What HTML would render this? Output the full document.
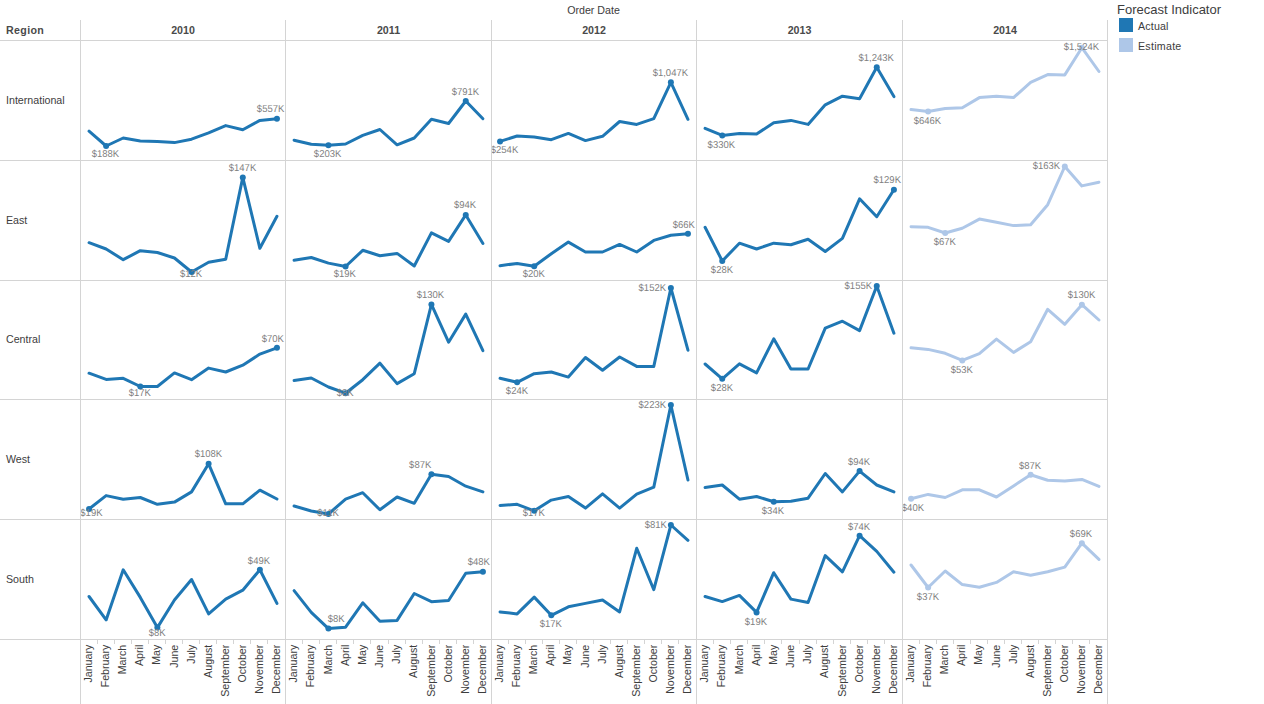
<!DOCTYPE html><html><head><meta charset="utf-8"><style>html,body{margin:0;padding:0;background:#fff;width:1264px;height:704px;overflow:hidden}svg{display:block}text{font-family:"Liberation Sans",sans-serif}</style></head><body>
<svg width="1264" height="704" viewBox="0 0 1264 704">
<rect width="1264" height="704" fill="#fff"/>
<path d="M0 40.5H1108 M0 160.5H1108 M0 280.5H1108 M0 399.5H1108 M0 519.5H1108 M0 639.5H1108 M80.5 20V704 M285.5 20V704 M491.5 20V704 M696.5 20V704 M902.5 20V704 M1107.5 20V704" stroke="#d4d4d4" stroke-width="1" fill="none" shape-rendering="crispEdges"/>
<path d="M97.5 640V644 M114.5 640V644 M131.5 640V644 M148.5 640V644 M165.5 640V644 M182.5 640V644 M199.5 640V644 M216.5 640V644 M233.5 640V644 M250.5 640V644 M267.5 640V644 M302.5 640V644 M319.5 640V644 M336.5 640V644 M353.5 640V644 M370.5 640V644 M388.5 640V644 M405.5 640V644 M422.5 640V644 M439.5 640V644 M456.5 640V644 M473.5 640V644 M508.5 640V644 M525.5 640V644 M542.5 640V644 M559.5 640V644 M576.5 640V644 M593.5 640V644 M610.5 640V644 M627.5 640V644 M644.5 640V644 M661.5 640V644 M678.5 640V644 M713.5 640V644 M730.5 640V644 M747.5 640V644 M764.5 640V644 M781.5 640V644 M799.5 640V644 M816.5 640V644 M833.5 640V644 M850.5 640V644 M867.5 640V644 M884.5 640V644 M919.5 640V644 M936.5 640V644 M953.5 640V644 M970.5 640V644 M987.5 640V644 M1004.5 640V644 M1021.5 640V644 M1038.5 640V644 M1055.5 640V644 M1072.5 640V644 M1089.5 640V644" stroke="#d4d4d4" stroke-width="1" fill="none" shape-rendering="crispEdges"/>
<text x="593.5" y="13.8" font-size="10.67" fill="#3d3d3d" text-anchor="middle">Order Date</text>
<text x="6" y="34" font-size="10.67" font-weight="bold" fill="#4a4a4a" letter-spacing="0.35">Region</text>
<text x="183.00" y="33.8" font-size="10.67" font-weight="bold" fill="#4a4a4a" text-anchor="middle">2010</text>
<text x="388.50" y="33.8" font-size="10.67" font-weight="bold" fill="#4a4a4a" text-anchor="middle">2011</text>
<text x="594.00" y="33.8" font-size="10.67" font-weight="bold" fill="#4a4a4a" text-anchor="middle">2012</text>
<text x="799.50" y="33.8" font-size="10.67" font-weight="bold" fill="#4a4a4a" text-anchor="middle">2013</text>
<text x="1005.00" y="33.8" font-size="10.67" font-weight="bold" fill="#4a4a4a" text-anchor="middle">2014</text>
<text x="6" y="103.80" font-size="10.67" fill="#3d3d3d">International</text>
<text x="6" y="223.80" font-size="10.67" fill="#3d3d3d">East</text>
<text x="6" y="342.80" font-size="10.67" fill="#3d3d3d">Central</text>
<text x="6" y="462.80" font-size="10.67" fill="#3d3d3d">West</text>
<text x="6" y="582.80" font-size="10.67" fill="#3d3d3d">South</text>
<text transform="translate(92.14,644.7) rotate(-90)" font-size="10.67" fill="#3d3d3d" text-anchor="end">January</text>
<text transform="translate(109.22,644.7) rotate(-90)" font-size="10.67" fill="#3d3d3d" text-anchor="end">February</text>
<text transform="translate(126.31,644.7) rotate(-90)" font-size="10.67" fill="#3d3d3d" text-anchor="end">March</text>
<text transform="translate(143.39,644.7) rotate(-90)" font-size="10.67" fill="#3d3d3d" text-anchor="end">April</text>
<text transform="translate(160.47,644.7) rotate(-90)" font-size="10.67" fill="#3d3d3d" text-anchor="end">May</text>
<text transform="translate(177.56,644.7) rotate(-90)" font-size="10.67" fill="#3d3d3d" text-anchor="end">June</text>
<text transform="translate(194.64,644.7) rotate(-90)" font-size="10.67" fill="#3d3d3d" text-anchor="end">July</text>
<text transform="translate(211.72,644.7) rotate(-90)" font-size="10.67" fill="#3d3d3d" text-anchor="end">August</text>
<text transform="translate(228.81,644.7) rotate(-90)" font-size="10.67" fill="#3d3d3d" text-anchor="end">September</text>
<text transform="translate(245.89,644.7) rotate(-90)" font-size="10.67" fill="#3d3d3d" text-anchor="end">October</text>
<text transform="translate(262.98,644.7) rotate(-90)" font-size="10.67" fill="#3d3d3d" text-anchor="end">November</text>
<text transform="translate(280.06,644.7) rotate(-90)" font-size="10.67" fill="#3d3d3d" text-anchor="end">December</text>
<text transform="translate(297.18,644.7) rotate(-90)" font-size="10.67" fill="#3d3d3d" text-anchor="end">January</text>
<text transform="translate(314.35,644.7) rotate(-90)" font-size="10.67" fill="#3d3d3d" text-anchor="end">February</text>
<text transform="translate(331.52,644.7) rotate(-90)" font-size="10.67" fill="#3d3d3d" text-anchor="end">March</text>
<text transform="translate(348.68,644.7) rotate(-90)" font-size="10.67" fill="#3d3d3d" text-anchor="end">April</text>
<text transform="translate(365.85,644.7) rotate(-90)" font-size="10.67" fill="#3d3d3d" text-anchor="end">May</text>
<text transform="translate(383.02,644.7) rotate(-90)" font-size="10.67" fill="#3d3d3d" text-anchor="end">June</text>
<text transform="translate(400.18,644.7) rotate(-90)" font-size="10.67" fill="#3d3d3d" text-anchor="end">July</text>
<text transform="translate(417.35,644.7) rotate(-90)" font-size="10.67" fill="#3d3d3d" text-anchor="end">August</text>
<text transform="translate(434.52,644.7) rotate(-90)" font-size="10.67" fill="#3d3d3d" text-anchor="end">September</text>
<text transform="translate(451.68,644.7) rotate(-90)" font-size="10.67" fill="#3d3d3d" text-anchor="end">October</text>
<text transform="translate(468.85,644.7) rotate(-90)" font-size="10.67" fill="#3d3d3d" text-anchor="end">November</text>
<text transform="translate(486.02,644.7) rotate(-90)" font-size="10.67" fill="#3d3d3d" text-anchor="end">December</text>
<text transform="translate(503.14,644.7) rotate(-90)" font-size="10.67" fill="#3d3d3d" text-anchor="end">January</text>
<text transform="translate(520.23,644.7) rotate(-90)" font-size="10.67" fill="#3d3d3d" text-anchor="end">February</text>
<text transform="translate(537.31,644.7) rotate(-90)" font-size="10.67" fill="#3d3d3d" text-anchor="end">March</text>
<text transform="translate(554.39,644.7) rotate(-90)" font-size="10.67" fill="#3d3d3d" text-anchor="end">April</text>
<text transform="translate(571.48,644.7) rotate(-90)" font-size="10.67" fill="#3d3d3d" text-anchor="end">May</text>
<text transform="translate(588.56,644.7) rotate(-90)" font-size="10.67" fill="#3d3d3d" text-anchor="end">June</text>
<text transform="translate(605.64,644.7) rotate(-90)" font-size="10.67" fill="#3d3d3d" text-anchor="end">July</text>
<text transform="translate(622.73,644.7) rotate(-90)" font-size="10.67" fill="#3d3d3d" text-anchor="end">August</text>
<text transform="translate(639.81,644.7) rotate(-90)" font-size="10.67" fill="#3d3d3d" text-anchor="end">September</text>
<text transform="translate(656.89,644.7) rotate(-90)" font-size="10.67" fill="#3d3d3d" text-anchor="end">October</text>
<text transform="translate(673.98,644.7) rotate(-90)" font-size="10.67" fill="#3d3d3d" text-anchor="end">November</text>
<text transform="translate(691.06,644.7) rotate(-90)" font-size="10.67" fill="#3d3d3d" text-anchor="end">December</text>
<text transform="translate(708.18,644.7) rotate(-90)" font-size="10.67" fill="#3d3d3d" text-anchor="end">January</text>
<text transform="translate(725.35,644.7) rotate(-90)" font-size="10.67" fill="#3d3d3d" text-anchor="end">February</text>
<text transform="translate(742.52,644.7) rotate(-90)" font-size="10.67" fill="#3d3d3d" text-anchor="end">March</text>
<text transform="translate(759.68,644.7) rotate(-90)" font-size="10.67" fill="#3d3d3d" text-anchor="end">April</text>
<text transform="translate(776.85,644.7) rotate(-90)" font-size="10.67" fill="#3d3d3d" text-anchor="end">May</text>
<text transform="translate(794.02,644.7) rotate(-90)" font-size="10.67" fill="#3d3d3d" text-anchor="end">June</text>
<text transform="translate(811.18,644.7) rotate(-90)" font-size="10.67" fill="#3d3d3d" text-anchor="end">July</text>
<text transform="translate(828.35,644.7) rotate(-90)" font-size="10.67" fill="#3d3d3d" text-anchor="end">August</text>
<text transform="translate(845.52,644.7) rotate(-90)" font-size="10.67" fill="#3d3d3d" text-anchor="end">September</text>
<text transform="translate(862.68,644.7) rotate(-90)" font-size="10.67" fill="#3d3d3d" text-anchor="end">October</text>
<text transform="translate(879.85,644.7) rotate(-90)" font-size="10.67" fill="#3d3d3d" text-anchor="end">November</text>
<text transform="translate(897.02,644.7) rotate(-90)" font-size="10.67" fill="#3d3d3d" text-anchor="end">December</text>
<text transform="translate(914.14,644.7) rotate(-90)" font-size="10.67" fill="#3d3d3d" text-anchor="end">January</text>
<text transform="translate(931.23,644.7) rotate(-90)" font-size="10.67" fill="#3d3d3d" text-anchor="end">February</text>
<text transform="translate(948.31,644.7) rotate(-90)" font-size="10.67" fill="#3d3d3d" text-anchor="end">March</text>
<text transform="translate(965.39,644.7) rotate(-90)" font-size="10.67" fill="#3d3d3d" text-anchor="end">April</text>
<text transform="translate(982.48,644.7) rotate(-90)" font-size="10.67" fill="#3d3d3d" text-anchor="end">May</text>
<text transform="translate(999.56,644.7) rotate(-90)" font-size="10.67" fill="#3d3d3d" text-anchor="end">June</text>
<text transform="translate(1016.64,644.7) rotate(-90)" font-size="10.67" fill="#3d3d3d" text-anchor="end">July</text>
<text transform="translate(1033.72,644.7) rotate(-90)" font-size="10.67" fill="#3d3d3d" text-anchor="end">August</text>
<text transform="translate(1050.81,644.7) rotate(-90)" font-size="10.67" fill="#3d3d3d" text-anchor="end">September</text>
<text transform="translate(1067.89,644.7) rotate(-90)" font-size="10.67" fill="#3d3d3d" text-anchor="end">October</text>
<text transform="translate(1084.97,644.7) rotate(-90)" font-size="10.67" fill="#3d3d3d" text-anchor="end">November</text>
<text transform="translate(1102.06,644.7) rotate(-90)" font-size="10.67" fill="#3d3d3d" text-anchor="end">December</text>
<defs>
<clipPath id="p00"><rect x="81" y="41" width="204" height="119"/></clipPath>
<clipPath id="p01"><rect x="286" y="41" width="205" height="119"/></clipPath>
<clipPath id="p02"><rect x="492" y="41" width="204" height="119"/></clipPath>
<clipPath id="p03"><rect x="697" y="41" width="205" height="119"/></clipPath>
<clipPath id="p04"><rect x="903" y="41" width="204" height="119"/></clipPath>
<clipPath id="p10"><rect x="81" y="161" width="204" height="119"/></clipPath>
<clipPath id="p11"><rect x="286" y="161" width="205" height="119"/></clipPath>
<clipPath id="p12"><rect x="492" y="161" width="204" height="119"/></clipPath>
<clipPath id="p13"><rect x="697" y="161" width="205" height="119"/></clipPath>
<clipPath id="p14"><rect x="903" y="161" width="204" height="119"/></clipPath>
<clipPath id="p20"><rect x="81" y="281" width="204" height="118"/></clipPath>
<clipPath id="p21"><rect x="286" y="281" width="205" height="118"/></clipPath>
<clipPath id="p22"><rect x="492" y="281" width="204" height="118"/></clipPath>
<clipPath id="p23"><rect x="697" y="281" width="205" height="118"/></clipPath>
<clipPath id="p24"><rect x="903" y="281" width="204" height="118"/></clipPath>
<clipPath id="p30"><rect x="81" y="400" width="204" height="119"/></clipPath>
<clipPath id="p31"><rect x="286" y="400" width="205" height="119"/></clipPath>
<clipPath id="p32"><rect x="492" y="400" width="204" height="119"/></clipPath>
<clipPath id="p33"><rect x="697" y="400" width="205" height="119"/></clipPath>
<clipPath id="p34"><rect x="903" y="400" width="204" height="119"/></clipPath>
<clipPath id="p40"><rect x="81" y="520" width="204" height="119"/></clipPath>
<clipPath id="p41"><rect x="286" y="520" width="205" height="119"/></clipPath>
<clipPath id="p42"><rect x="492" y="520" width="204" height="119"/></clipPath>
<clipPath id="p43"><rect x="697" y="520" width="205" height="119"/></clipPath>
<clipPath id="p44"><rect x="903" y="520" width="204" height="119"/></clipPath>
</defs>
<g clip-path="url(#p00)">
<polyline points="89.04,131.20 106.12,146.00 123.21,138.00 140.29,140.90 157.38,141.40 174.46,142.60 191.54,139.20 208.62,132.90 225.71,125.60 242.79,129.80 259.88,120.40 276.96,118.70" fill="none" stroke="#1f77b4" stroke-width="3.0" stroke-linejoin="round" stroke-linecap="round"/>
<circle cx="106.12" cy="146.00" r="3.0" fill="#1f77b4"/>
<circle cx="276.96" cy="118.70" r="3.0" fill="#1f77b4"/>
<text transform="translate(105.40,157) scale(0.95,1)" font-size="10" fill="#7f7f7f" text-anchor="middle" text-rendering="geometricPrecision">$188K</text>
<text transform="translate(270.60,112) scale(0.95,1)" font-size="10" fill="#7f7f7f" text-anchor="middle" text-rendering="geometricPrecision">$557K</text>
</g>
<g clip-path="url(#p01)">
<polyline points="294.08,140.20 311.25,144.30 328.42,145.20 345.58,144.00 362.75,135.40 379.92,129.50 397.08,144.80 414.25,138.00 431.42,119.30 448.58,123.50 465.75,101.00 482.92,118.70" fill="none" stroke="#1f77b4" stroke-width="3.0" stroke-linejoin="round" stroke-linecap="round"/>
<circle cx="328.42" cy="145.20" r="3.0" fill="#1f77b4"/>
<circle cx="465.75" cy="101.00" r="3.0" fill="#1f77b4"/>
<text transform="translate(327.60,157) scale(0.95,1)" font-size="10" fill="#7f7f7f" text-anchor="middle" text-rendering="geometricPrecision">$203K</text>
<text transform="translate(465.45,95) scale(0.95,1)" font-size="10" fill="#7f7f7f" text-anchor="middle" text-rendering="geometricPrecision">$791K</text>
</g>
<g clip-path="url(#p02)">
<polyline points="500.04,141.40 517.12,136.00 534.21,137.10 551.29,139.70 568.38,133.40 585.46,140.60 602.54,136.30 619.62,121.50 636.71,124.40 653.79,118.70 670.88,82.30 687.96,119.30" fill="none" stroke="#1f77b4" stroke-width="3.0" stroke-linejoin="round" stroke-linecap="round"/>
<circle cx="500.04" cy="141.40" r="3.0" fill="#1f77b4"/>
<circle cx="670.88" cy="82.30" r="3.0" fill="#1f77b4"/>
<text transform="translate(504.50,153) scale(0.95,1)" font-size="10" fill="#7f7f7f" text-anchor="middle" text-rendering="geometricPrecision">$254K</text>
<text transform="translate(670.35,76) scale(0.95,1)" font-size="10" fill="#7f7f7f" text-anchor="middle" text-rendering="geometricPrecision">$1,047K</text>
</g>
<g clip-path="url(#p03)">
<polyline points="705.08,128.30 722.25,135.40 739.42,133.40 756.58,134.10 773.75,122.70 790.92,120.40 808.08,124.40 825.25,104.80 842.42,96.20 859.58,98.80 876.75,67.30 893.92,96.60" fill="none" stroke="#1f77b4" stroke-width="3.0" stroke-linejoin="round" stroke-linecap="round"/>
<circle cx="722.25" cy="135.40" r="3.0" fill="#1f77b4"/>
<circle cx="876.75" cy="67.30" r="3.0" fill="#1f77b4"/>
<text transform="translate(721.35,148) scale(0.95,1)" font-size="10" fill="#7f7f7f" text-anchor="middle" text-rendering="geometricPrecision">$330K</text>
<text transform="translate(876.15,61) scale(0.95,1)" font-size="10" fill="#7f7f7f" text-anchor="middle" text-rendering="geometricPrecision">$1,243K</text>
</g>
<g clip-path="url(#p04)">
<polyline points="911.04,109.50 928.12,111.60 945.21,108.50 962.29,107.80 979.38,97.60 996.46,96.20 1013.54,97.60 1030.62,82.30 1047.71,74.60 1064.79,74.90 1081.88,47.70 1098.96,71.50" fill="none" stroke="#aec7e8" stroke-width="3.0" stroke-linejoin="round" stroke-linecap="round"/>
<circle cx="928.12" cy="111.60" r="3.0" fill="#aec7e8"/>
<circle cx="1081.88" cy="47.70" r="3.0" fill="#aec7e8"/>
<text transform="translate(927.40,124) scale(0.95,1)" font-size="10" fill="#7f7f7f" text-anchor="middle" text-rendering="geometricPrecision">$646K</text>
<text transform="translate(1081.35,50) scale(0.95,1)" font-size="10" fill="#7f7f7f" text-anchor="middle" text-rendering="geometricPrecision">$1,524K</text>
</g>
<g clip-path="url(#p10)">
<polyline points="89.04,242.70 106.12,249.00 123.21,259.70 140.29,250.70 157.38,252.50 174.46,258.00 191.54,272.00 208.62,262.30 225.71,259.20 242.79,177.40 259.88,248.30 276.96,216.20" fill="none" stroke="#1f77b4" stroke-width="3.0" stroke-linejoin="round" stroke-linecap="round"/>
<circle cx="191.54" cy="272.00" r="3.0" fill="#1f77b4"/>
<circle cx="242.79" cy="177.40" r="3.0" fill="#1f77b4"/>
<text transform="translate(191.00,277) scale(0.95,1)" font-size="10" fill="#7f7f7f" text-anchor="middle" text-rendering="geometricPrecision">$12K</text>
<text transform="translate(242.50,171) scale(0.95,1)" font-size="10" fill="#7f7f7f" text-anchor="middle" text-rendering="geometricPrecision">$147K</text>
</g>
<g clip-path="url(#p11)">
<polyline points="294.08,260.20 311.25,257.50 328.42,263.10 345.58,266.50 362.75,250.30 379.92,255.80 397.08,253.40 414.25,266.00 431.42,232.90 448.58,241.40 465.75,214.90 482.92,243.50" fill="none" stroke="#1f77b4" stroke-width="3.0" stroke-linejoin="round" stroke-linecap="round"/>
<circle cx="345.58" cy="266.50" r="3.0" fill="#1f77b4"/>
<circle cx="465.75" cy="214.90" r="3.0" fill="#1f77b4"/>
<text transform="translate(344.80,277) scale(0.95,1)" font-size="10" fill="#7f7f7f" text-anchor="middle" text-rendering="geometricPrecision">$19K</text>
<text transform="translate(465.00,208) scale(0.95,1)" font-size="10" fill="#7f7f7f" text-anchor="middle" text-rendering="geometricPrecision">$94K</text>
</g>
<g clip-path="url(#p12)">
<polyline points="500.04,265.70 517.12,263.40 534.21,266.20 551.29,253.70 568.38,242.10 585.46,252.00 602.54,252.00 619.62,244.40 636.71,252.00 653.79,240.40 670.88,235.30 687.96,233.80" fill="none" stroke="#1f77b4" stroke-width="3.0" stroke-linejoin="round" stroke-linecap="round"/>
<circle cx="534.21" cy="266.20" r="3.0" fill="#1f77b4"/>
<circle cx="687.96" cy="233.80" r="3.0" fill="#1f77b4"/>
<text transform="translate(533.85,277) scale(0.95,1)" font-size="10" fill="#7f7f7f" text-anchor="middle" text-rendering="geometricPrecision">$20K</text>
<text transform="translate(683.80,228) scale(0.95,1)" font-size="10" fill="#7f7f7f" text-anchor="middle" text-rendering="geometricPrecision">$66K</text>
</g>
<g clip-path="url(#p13)">
<polyline points="705.08,227.30 722.25,261.00 739.42,243.20 756.58,249.00 773.75,243.20 790.92,244.70 808.08,239.20 825.25,251.50 842.42,238.40 859.58,198.80 876.75,216.70 893.92,189.80" fill="none" stroke="#1f77b4" stroke-width="3.0" stroke-linejoin="round" stroke-linecap="round"/>
<circle cx="722.25" cy="261.00" r="3.0" fill="#1f77b4"/>
<circle cx="893.92" cy="189.80" r="3.0" fill="#1f77b4"/>
<text transform="translate(721.95,273) scale(0.95,1)" font-size="10" fill="#7f7f7f" text-anchor="middle" text-rendering="geometricPrecision">$28K</text>
<text transform="translate(887.25,183) scale(0.95,1)" font-size="10" fill="#7f7f7f" text-anchor="middle" text-rendering="geometricPrecision">$129K</text>
</g>
<g clip-path="url(#p14)">
<polyline points="911.04,226.80 928.12,227.30 945.21,233.00 962.29,228.20 979.38,219.10 996.46,222.20 1013.54,225.60 1030.62,224.80 1047.71,204.70 1064.79,166.50 1081.88,185.90 1098.96,182.20" fill="none" stroke="#aec7e8" stroke-width="3.0" stroke-linejoin="round" stroke-linecap="round"/>
<circle cx="945.21" cy="233.00" r="3.0" fill="#aec7e8"/>
<circle cx="1064.79" cy="166.50" r="3.0" fill="#aec7e8"/>
<text transform="translate(944.85,245) scale(0.95,1)" font-size="10" fill="#7f7f7f" text-anchor="middle" text-rendering="geometricPrecision">$67K</text>
<text transform="translate(1046.40,169) scale(0.95,1)" font-size="10" fill="#7f7f7f" text-anchor="middle" text-rendering="geometricPrecision">$163K</text>
</g>
<g clip-path="url(#p20)">
<polyline points="89.04,373.20 106.12,379.40 123.21,378.30 140.29,386.50 157.38,386.50 174.46,372.90 191.54,379.70 208.62,368.10 225.71,372.00 242.79,365.20 259.88,354.10 276.96,347.80" fill="none" stroke="#1f77b4" stroke-width="3.0" stroke-linejoin="round" stroke-linecap="round"/>
<circle cx="140.29" cy="386.50" r="3.0" fill="#1f77b4"/>
<circle cx="276.96" cy="347.80" r="3.0" fill="#1f77b4"/>
<text transform="translate(139.75,396) scale(0.95,1)" font-size="10" fill="#7f7f7f" text-anchor="middle" text-rendering="geometricPrecision">$17K</text>
<text transform="translate(272.80,342) scale(0.95,1)" font-size="10" fill="#7f7f7f" text-anchor="middle" text-rendering="geometricPrecision">$70K</text>
</g>
<g clip-path="url(#p21)">
<polyline points="294.08,380.50 311.25,378.00 328.42,387.00 345.58,393.20 362.75,379.70 379.92,363.20 397.08,383.60 414.25,373.70 431.42,304.40 448.58,342.20 465.75,314.10 482.92,350.70" fill="none" stroke="#1f77b4" stroke-width="3.0" stroke-linejoin="round" stroke-linecap="round"/>
<circle cx="345.58" cy="393.20" r="3.0" fill="#1f77b4"/>
<circle cx="431.42" cy="304.40" r="3.0" fill="#1f77b4"/>
<text transform="translate(345.10,396) scale(0.95,1)" font-size="10" fill="#7f7f7f" text-anchor="middle" text-rendering="geometricPrecision">$8K</text>
<text transform="translate(430.40,298) scale(0.95,1)" font-size="10" fill="#7f7f7f" text-anchor="middle" text-rendering="geometricPrecision">$130K</text>
</g>
<g clip-path="url(#p22)">
<polyline points="500.04,378.30 517.12,382.30 534.21,373.70 551.29,372.00 568.38,377.10 585.46,357.50 602.54,370.30 619.62,357.00 636.71,366.40 653.79,366.40 670.88,288.00 687.96,350.20" fill="none" stroke="#1f77b4" stroke-width="3.0" stroke-linejoin="round" stroke-linecap="round"/>
<circle cx="517.12" cy="382.30" r="3.0" fill="#1f77b4"/>
<circle cx="670.88" cy="288.00" r="3.0" fill="#1f77b4"/>
<text transform="translate(516.95,394) scale(0.95,1)" font-size="10" fill="#7f7f7f" text-anchor="middle" text-rendering="geometricPrecision">$24K</text>
<text transform="translate(652.30,291) scale(0.95,1)" font-size="10" fill="#7f7f7f" text-anchor="middle" text-rendering="geometricPrecision">$152K</text>
</g>
<g clip-path="url(#p23)">
<polyline points="705.08,364.00 722.25,378.80 739.42,363.80 756.58,372.90 773.75,338.80 790.92,369.00 808.08,369.00 825.25,328.10 842.42,321.20 859.58,330.60 876.75,286.00 893.92,333.20" fill="none" stroke="#1f77b4" stroke-width="3.0" stroke-linejoin="round" stroke-linecap="round"/>
<circle cx="722.25" cy="378.80" r="3.0" fill="#1f77b4"/>
<circle cx="876.75" cy="286.00" r="3.0" fill="#1f77b4"/>
<text transform="translate(721.95,391) scale(0.95,1)" font-size="10" fill="#7f7f7f" text-anchor="middle" text-rendering="geometricPrecision">$28K</text>
<text transform="translate(858.30,289) scale(0.95,1)" font-size="10" fill="#7f7f7f" text-anchor="middle" text-rendering="geometricPrecision">$155K</text>
</g>
<g clip-path="url(#p24)">
<polyline points="911.04,347.80 928.12,349.40 945.21,353.30 962.29,360.40 979.38,353.60 996.46,339.10 1013.54,352.40 1030.62,341.70 1047.71,309.30 1064.79,324.30 1081.88,304.70 1098.96,320.00" fill="none" stroke="#aec7e8" stroke-width="3.0" stroke-linejoin="round" stroke-linecap="round"/>
<circle cx="962.29" cy="360.40" r="3.0" fill="#aec7e8"/>
<circle cx="1081.88" cy="304.70" r="3.0" fill="#aec7e8"/>
<text transform="translate(961.75,373) scale(0.95,1)" font-size="10" fill="#7f7f7f" text-anchor="middle" text-rendering="geometricPrecision">$53K</text>
<text transform="translate(1081.55,298) scale(0.95,1)" font-size="10" fill="#7f7f7f" text-anchor="middle" text-rendering="geometricPrecision">$130K</text>
</g>
<g clip-path="url(#p30)">
<polyline points="89.04,509.00 106.12,495.60 123.21,499.20 140.29,497.50 157.38,504.30 174.46,502.10 191.54,491.90 208.62,463.80 225.71,503.80 242.79,503.80 259.88,490.20 276.96,499.00" fill="none" stroke="#1f77b4" stroke-width="3.0" stroke-linejoin="round" stroke-linecap="round"/>
<circle cx="89.04" cy="509.00" r="3.0" fill="#1f77b4"/>
<circle cx="208.62" cy="463.80" r="3.0" fill="#1f77b4"/>
<text transform="translate(91.40,516) scale(0.95,1)" font-size="10" fill="#7f7f7f" text-anchor="middle" text-rendering="geometricPrecision">$19K</text>
<text transform="translate(208.40,457) scale(0.95,1)" font-size="10" fill="#7f7f7f" text-anchor="middle" text-rendering="geometricPrecision">$108K</text>
</g>
<g clip-path="url(#p31)">
<polyline points="294.08,506.00 311.25,511.00 328.42,514.00 345.58,499.20 362.75,492.70 379.92,509.80 397.08,497.00 414.25,503.30 431.42,474.30 448.58,476.50 465.75,486.20 482.92,491.90" fill="none" stroke="#1f77b4" stroke-width="3.0" stroke-linejoin="round" stroke-linecap="round"/>
<circle cx="328.42" cy="514.00" r="3.0" fill="#1f77b4"/>
<circle cx="431.42" cy="474.30" r="3.0" fill="#1f77b4"/>
<text transform="translate(328.05,516) scale(0.95,1)" font-size="10" fill="#7f7f7f" text-anchor="middle" text-rendering="geometricPrecision">$11K</text>
<text transform="translate(420.20,468) scale(0.95,1)" font-size="10" fill="#7f7f7f" text-anchor="middle" text-rendering="geometricPrecision">$87K</text>
</g>
<g clip-path="url(#p32)">
<polyline points="500.04,505.50 517.12,504.30 534.21,510.80 551.29,500.10 568.38,496.50 585.46,508.10 602.54,493.90 619.62,508.10 636.71,494.10 653.79,487.10 670.88,405.00 687.96,480.00" fill="none" stroke="#1f77b4" stroke-width="3.0" stroke-linejoin="round" stroke-linecap="round"/>
<circle cx="534.21" cy="510.80" r="3.0" fill="#1f77b4"/>
<circle cx="670.88" cy="405.00" r="3.0" fill="#1f77b4"/>
<text transform="translate(533.85,516) scale(0.95,1)" font-size="10" fill="#7f7f7f" text-anchor="middle" text-rendering="geometricPrecision">$17K</text>
<text transform="translate(652.30,408) scale(0.95,1)" font-size="10" fill="#7f7f7f" text-anchor="middle" text-rendering="geometricPrecision">$223K</text>
</g>
<g clip-path="url(#p33)">
<polyline points="705.08,487.60 722.25,485.00 739.42,499.20 756.58,496.50 773.75,501.80 790.92,501.30 808.08,498.20 825.25,473.50 842.42,491.90 859.58,471.10 876.75,485.00 893.92,491.90" fill="none" stroke="#1f77b4" stroke-width="3.0" stroke-linejoin="round" stroke-linecap="round"/>
<circle cx="773.75" cy="501.80" r="3.0" fill="#1f77b4"/>
<circle cx="859.58" cy="471.10" r="3.0" fill="#1f77b4"/>
<text transform="translate(772.90,514) scale(0.95,1)" font-size="10" fill="#7f7f7f" text-anchor="middle" text-rendering="geometricPrecision">$34K</text>
<text transform="translate(859.00,465) scale(0.95,1)" font-size="10" fill="#7f7f7f" text-anchor="middle" text-rendering="geometricPrecision">$94K</text>
</g>
<g clip-path="url(#p34)">
<polyline points="911.04,498.70 928.12,494.40 945.21,497.50 962.29,489.80 979.38,489.80 996.46,497.00 1013.54,485.90 1030.62,474.80 1047.71,480.30 1064.79,481.10 1081.88,479.40 1098.96,486.40" fill="none" stroke="#aec7e8" stroke-width="3.0" stroke-linejoin="round" stroke-linecap="round"/>
<circle cx="911.04" cy="498.70" r="3.0" fill="#aec7e8"/>
<circle cx="1030.62" cy="474.80" r="3.0" fill="#aec7e8"/>
<text transform="translate(912.90,511) scale(0.95,1)" font-size="10" fill="#7f7f7f" text-anchor="middle" text-rendering="geometricPrecision">$40K</text>
<text transform="translate(1030.05,469) scale(0.95,1)" font-size="10" fill="#7f7f7f" text-anchor="middle" text-rendering="geometricPrecision">$87K</text>
</g>
<g clip-path="url(#p40)">
<polyline points="89.04,596.50 106.12,619.90 123.21,569.80 140.29,597.40 157.38,627.60 174.46,600.00 191.54,579.50 208.62,613.90 225.71,599.10 242.79,590.20 259.88,569.80 276.96,603.40" fill="none" stroke="#1f77b4" stroke-width="3.0" stroke-linejoin="round" stroke-linecap="round"/>
<circle cx="157.38" cy="627.60" r="3.0" fill="#1f77b4"/>
<circle cx="259.88" cy="569.80" r="3.0" fill="#1f77b4"/>
<text transform="translate(157.10,636) scale(0.95,1)" font-size="10" fill="#7f7f7f" text-anchor="middle" text-rendering="geometricPrecision">$8K</text>
<text transform="translate(258.95,564) scale(0.95,1)" font-size="10" fill="#7f7f7f" text-anchor="middle" text-rendering="geometricPrecision">$49K</text>
</g>
<g clip-path="url(#p41)">
<polyline points="294.08,590.60 311.25,612.40 328.42,628.60 345.58,627.20 362.75,602.80 379.92,621.20 397.08,620.40 414.25,593.50 431.42,601.70 448.58,600.50 465.75,573.20 482.92,571.80" fill="none" stroke="#1f77b4" stroke-width="3.0" stroke-linejoin="round" stroke-linecap="round"/>
<circle cx="328.42" cy="628.60" r="3.0" fill="#1f77b4"/>
<circle cx="482.92" cy="571.80" r="3.0" fill="#1f77b4"/>
<text transform="translate(336.25,622) scale(0.95,1)" font-size="10" fill="#7f7f7f" text-anchor="middle" text-rendering="geometricPrecision">$8K</text>
<text transform="translate(478.85,565) scale(0.95,1)" font-size="10" fill="#7f7f7f" text-anchor="middle" text-rendering="geometricPrecision">$48K</text>
</g>
<g clip-path="url(#p42)">
<polyline points="500.04,611.90 517.12,613.90 534.21,597.10 551.29,615.30 568.38,606.80 585.46,603.40 602.54,600.00 619.62,611.90 636.71,548.30 653.79,589.70 670.88,525.00 687.96,540.30" fill="none" stroke="#1f77b4" stroke-width="3.0" stroke-linejoin="round" stroke-linecap="round"/>
<circle cx="551.29" cy="615.30" r="3.0" fill="#1f77b4"/>
<circle cx="670.88" cy="525.00" r="3.0" fill="#1f77b4"/>
<text transform="translate(550.75,627) scale(0.95,1)" font-size="10" fill="#7f7f7f" text-anchor="middle" text-rendering="geometricPrecision">$17K</text>
<text transform="translate(655.85,528) scale(0.95,1)" font-size="10" fill="#7f7f7f" text-anchor="middle" text-rendering="geometricPrecision">$81K</text>
</g>
<g clip-path="url(#p43)">
<polyline points="705.08,596.50 722.25,601.60 739.42,595.40 756.58,612.40 773.75,572.70 790.92,599.10 808.08,602.50 825.25,555.60 842.42,571.80 859.58,535.70 876.75,551.40 893.92,572.20" fill="none" stroke="#1f77b4" stroke-width="3.0" stroke-linejoin="round" stroke-linecap="round"/>
<circle cx="756.58" cy="612.40" r="3.0" fill="#1f77b4"/>
<circle cx="859.58" cy="535.70" r="3.0" fill="#1f77b4"/>
<text transform="translate(755.90,625) scale(0.95,1)" font-size="10" fill="#7f7f7f" text-anchor="middle" text-rendering="geometricPrecision">$19K</text>
<text transform="translate(859.00,530) scale(0.95,1)" font-size="10" fill="#7f7f7f" text-anchor="middle" text-rendering="geometricPrecision">$74K</text>
</g>
<g clip-path="url(#p44)">
<polyline points="911.04,565.00 928.12,587.50 945.21,571.00 962.29,584.60 979.38,587.20 996.46,582.40 1013.54,571.80 1030.62,575.20 1047.71,571.80 1064.79,567.10 1081.88,543.20 1098.96,559.40" fill="none" stroke="#aec7e8" stroke-width="3.0" stroke-linejoin="round" stroke-linecap="round"/>
<circle cx="928.12" cy="587.50" r="3.0" fill="#aec7e8"/>
<circle cx="1081.88" cy="543.20" r="3.0" fill="#aec7e8"/>
<text transform="translate(927.95,600) scale(0.95,1)" font-size="10" fill="#7f7f7f" text-anchor="middle" text-rendering="geometricPrecision">$37K</text>
<text transform="translate(1080.95,537) scale(0.95,1)" font-size="10" fill="#7f7f7f" text-anchor="middle" text-rendering="geometricPrecision">$69K</text>
</g>
<text x="1117" y="14" font-size="13" fill="#3d3d3d">Forecast Indicator</text>
<rect x="1119" y="18" width="14" height="14" fill="#1f77b4"/>
<rect x="1119" y="38" width="14" height="14" fill="#aec7e8"/>
<text x="1138" y="29.8" font-size="10.67" fill="#3d3d3d" letter-spacing="0.16">Actual</text>
<text x="1138" y="49.8" font-size="10.67" fill="#3d3d3d" letter-spacing="0.26">Estimate</text>
</svg></body></html>
